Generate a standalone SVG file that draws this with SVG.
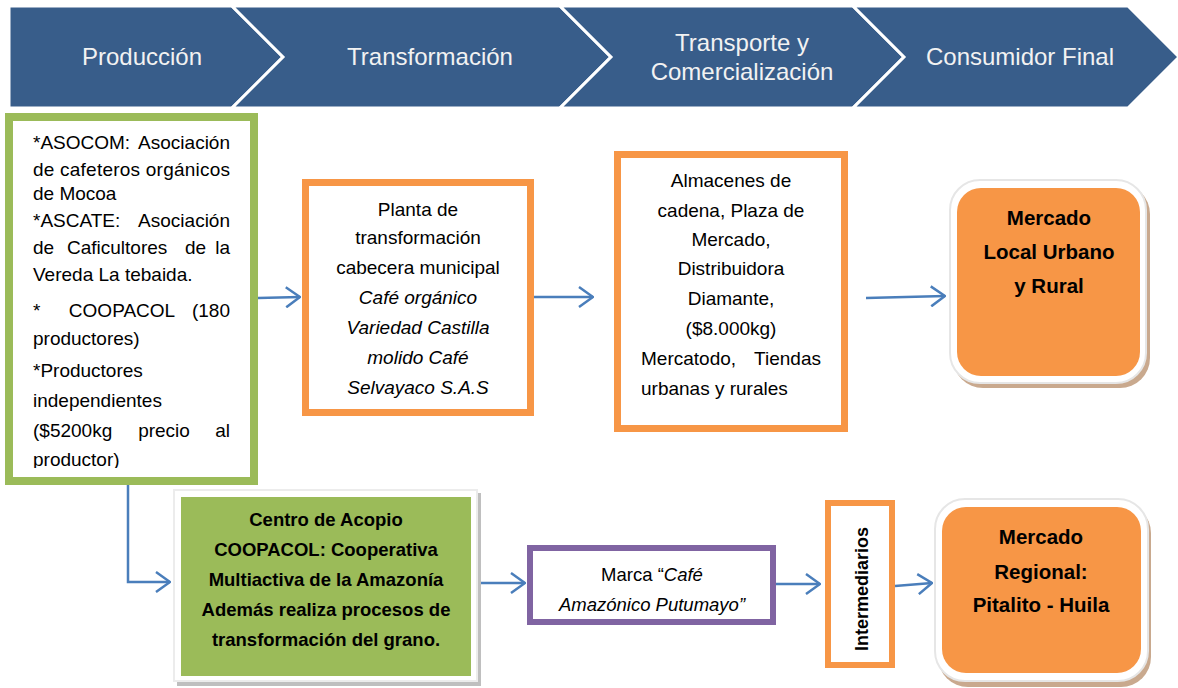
<svg xmlns="http://www.w3.org/2000/svg" width="1178" height="688" viewBox="0 0 1178 688">
<style>
.chev{fill:#385D8A;stroke:#ffffff;stroke-width:3;stroke-linejoin:miter}
.ct{font-family:"Liberation Sans",Arial,sans-serif;font-size:24px;fill:#f2f2f2;text-anchor:middle}
.t{font-family:"Liberation Sans",Arial,sans-serif;font-size:19px;fill:#000}
.c{text-anchor:middle}
.e{text-anchor:end}
.i{font-style:italic}
.b{font-weight:bold}
.conn{stroke:#4A7EBB;stroke-width:2.5;fill:none}
</style>
<defs>
<marker id="ah" viewBox="0 0 16 22" refX="15" refY="11" markerWidth="16" markerHeight="22" markerUnits="userSpaceOnUse" orient="auto">
<path d="M1,1 L15,11 L1,21" fill="none" stroke="#4A7EBB" stroke-width="2.5"/>
</marker>
<clipPath id="gclip"><rect x="13" y="121" width="238" height="347"/></clipPath>
</defs>
<rect width="1178" height="688" fill="#ffffff"/>

<g id="stages">
<polygon class="chev" points="9,6 232,6 283,57 232,108 9,108"/>
<polygon class="chev" points="232,6 560,6 611,57 560,108 232,108 283,57"/>
<polygon class="chev" points="560,6 853,6 904,57 853,108 560,108 611,57"/>
<polygon class="chev" points="853,6 1128,6 1179,57 1128,108 853,108 904,57"/>
<text class="ct" x="142" y="65">Producción</text>
<text class="ct" x="430" y="65">Transformación</text>
<text class="ct" x="742" y="51">Transporte y</text>
<text class="ct" x="742" y="80">Comercialización</text>
<text class="ct" x="1020" y="65">Consumidor Final</text>
</g>

<g id="connectors">
<line class="conn" x1="258" y1="298" x2="300" y2="297" marker-end="url(#ah)"/>
<line class="conn" x1="534" y1="297" x2="593" y2="297" marker-end="url(#ah)"/>
<line class="conn" x1="866" y1="298" x2="945" y2="296" marker-end="url(#ah)"/>
<polyline class="conn" points="128,485 128,582 170,582" marker-end="url(#ah)"/>
<line class="conn" x1="480" y1="583" x2="525" y2="583" marker-end="url(#ah)"/>
<line class="conn" x1="776" y1="584" x2="820" y2="584" marker-end="url(#ah)"/>
<line class="conn" x1="895" y1="586" x2="932" y2="583" marker-end="url(#ah)"/>
</g>

<g id="produccion">
<rect x="9" y="117" width="245" height="364" fill="#ffffff" stroke="#9BBB59" stroke-width="8"/>
<g clip-path="url(#gclip)">
<text class="t" x="33" y="149">*ASOCOM:</text><text class="t e" x="230" y="149">Asociación</text>
<text class="t" x="33" y="176" textLength="197" lengthAdjust="spacing">de cafeteros orgánicos</text>
<text class="t" x="33" y="200">de Mocoa</text>
<text class="t" x="33" y="227">*ASCATE:</text><text class="t e" x="230" y="227">Asociación</text>
<text class="t" x="33" y="254">de</text><text class="t" x="67" y="254">Caficultores</text><text class="t" x="185" y="254">de</text><text class="t e" x="230" y="254">la</text>
<text class="t" x="33" y="281">Vereda La tebaida.</text>
<text class="t" x="33" y="317">*</text><text class="t c" x="122" y="317">COOPACOL</text><text class="t e" x="230" y="317">(180</text>
<text class="t" x="33" y="345">productores)</text>
<text class="t" x="33" y="377">*Productores</text>
<text class="t" x="33" y="407">independientes</text>
<text class="t" x="33" y="437">($5200kg</text><text class="t c" x="164" y="437">precio</text><text class="t e" x="230" y="437">al</text>
<text class="t" x="33" y="466">productor)</text>
</g>
</g>

<g id="planta">
<rect x="305.5" y="182.5" width="225" height="230" fill="#ffffff" stroke="#F79646" stroke-width="7"/>
<text class="t c" x="418" y="216">Planta de</text>
<text class="t c" x="418" y="244">transformación</text>
<text class="t c" x="418" y="274">cabecera municipal</text>
<text class="t c i" x="418" y="304">Café orgánico</text>
<text class="t c i" x="418" y="334">Variedad Castilla</text>
<text class="t c i" x="418" y="364">molido Café</text>
<text class="t c i" x="418" y="394">Selvayaco S.A.S</text>
</g>

<g id="almacenes">
<rect x="617.5" y="154.5" width="227" height="274" fill="#ffffff" stroke="#F79646" stroke-width="7"/>
<text class="t c" x="731" y="187">Almacenes de</text>
<text class="t c" x="731" y="217">cadena, Plaza de</text>
<text class="t c" x="731" y="246">Mercado,</text>
<text class="t c" x="731" y="275">Distribuidora</text>
<text class="t c" x="731" y="305">Diamante,</text>
<text class="t c" x="731" y="335">($8.000kg)</text>
<text class="t" x="641" y="365">Mercatodo,</text><text class="t e" x="821" y="365">Tiendas</text>
<text class="t" x="641" y="395">urbanas y rurales</text>
</g>

<g id="mercado-local">
<rect x="953" y="184" width="197" height="204" rx="30" fill="#c9a98e"/>
<rect x="950" y="180" width="196" height="203" rx="30" fill="#ffffff" stroke="#e6e6e6" stroke-width="2"/>
<rect x="957" y="188" width="183" height="188" rx="24" fill="#F79646"/>
<text class="t c b" x="1049" y="225" style="font-size:20.5px">Mercado</text>
<text class="t c b" x="1049" y="259" style="font-size:20.5px">Local Urbano</text>
<text class="t c b" x="1049" y="293" style="font-size:20.5px">y Rural</text>
</g>

<g id="centro-acopio">
<rect x="177" y="493" width="304" height="193" fill="#bfbfbf"/>
<rect x="174" y="490" width="303" height="191" fill="#ffffff" stroke="#ececec" stroke-width="2"/>
<rect x="181" y="497" width="290" height="179" fill="#9BBB59"/>
<text class="t c b" x="326" y="526" style="font-size:18.5px">Centro de Acopio</text>
<text class="t c b" x="326" y="556" style="font-size:18.5px">COOPACOL: Cooperativa</text>
<text class="t c b" x="326" y="586" style="font-size:18.5px">Multiactiva de la Amazonía</text>
<text class="t c b" x="326" y="616" style="font-size:18.5px">Además realiza procesos de</text>
<text class="t c b" x="326" y="646" style="font-size:18.5px">transformación del grano.</text>
</g>

<g id="marca">
<rect x="530" y="548" width="243" height="74" fill="#ffffff" stroke="#8064A2" stroke-width="6"/>
<text class="t c" x="652" y="581" style="font-size:18.5px">Marca “<tspan class="i">Café</tspan></text>
<text class="t c i" x="652" y="611" style="font-size:18.5px">Amazónico Putumayo”</text>
</g>

<g id="intermediarios">
<rect x="828" y="503" width="64" height="162" fill="#ffffff" stroke="#F79646" stroke-width="6"/>
<text class="t c b" x="0" y="0" style="font-size:18px" transform="translate(868,589) rotate(-90)">Intermediarios</text>
</g>

<g id="mercado-regional">
<rect x="938" y="503" width="213" height="184" rx="30" fill="#c9a98e"/>
<rect x="935" y="499" width="213" height="182" rx="30" fill="#ffffff" stroke="#e6e6e6" stroke-width="2"/>
<rect x="942" y="507" width="199" height="166" rx="24" fill="#F79646"/>
<text class="t c b" x="1041" y="544" style="font-size:20.5px">Mercado</text>
<text class="t c b" x="1041" y="579" style="font-size:20.5px">Regional:</text>
<text class="t c b" x="1041" y="612" style="font-size:20.5px">Pitalito - Huila</text>
</g>
</svg>
